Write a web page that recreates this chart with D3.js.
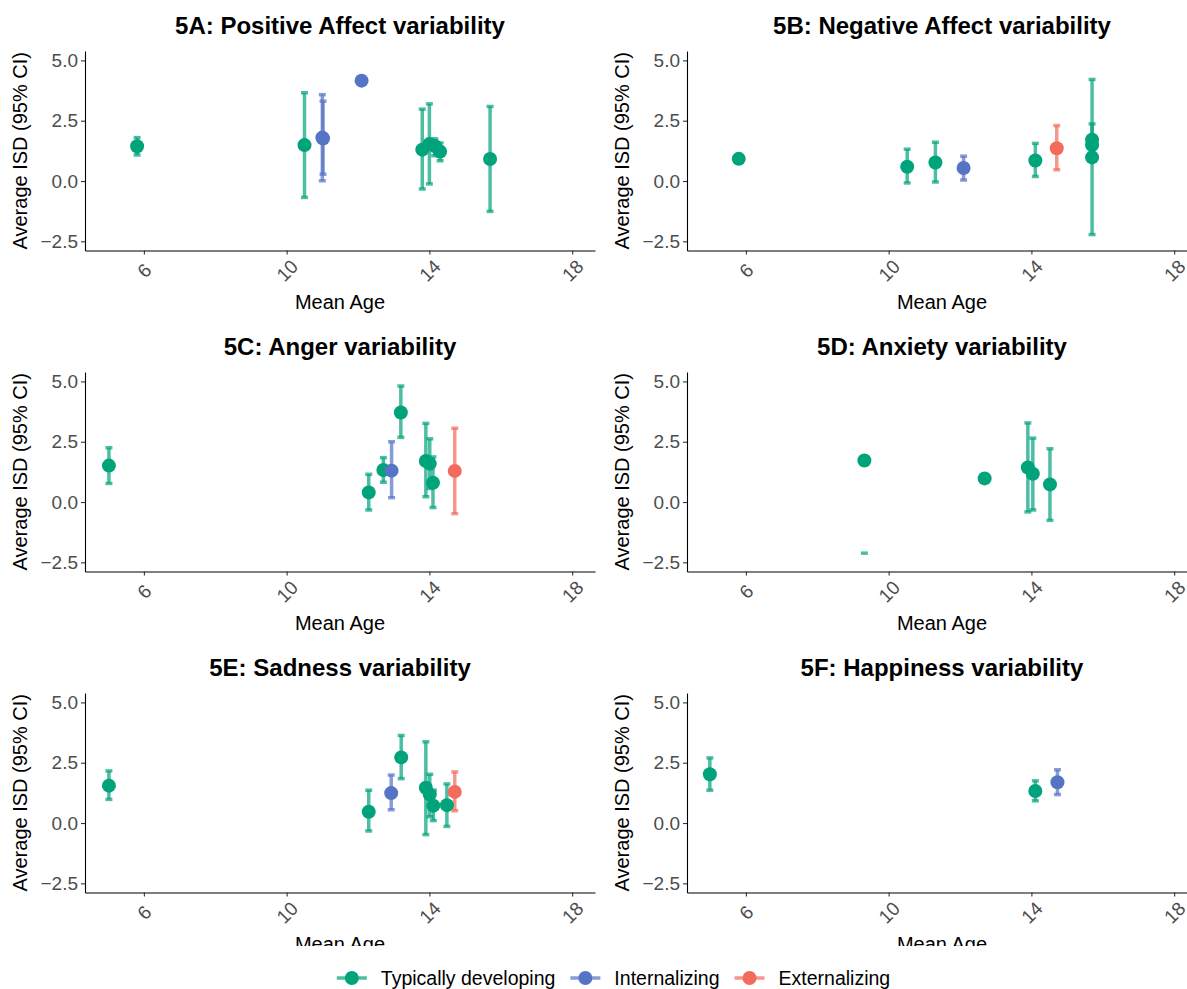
<!DOCTYPE html>
<html>
<head>
<meta charset="utf-8">
<script src="https://cdn.jsdelivr.net/npm/d3@7"></script>
<style>
  body { margin: 0; background: #fff; }
  text { font-family: "Liberation Sans", Arial, sans-serif; }
</style>
</head>
<body>
<div id="chart"></div>
<script>
var chartWidth = 1187;
var chartHeight = 989;

var panelTitles = [
  "5A: Positive Affect variability",
  "5B: Negative Affect variability",
  "5C: Anger variability",
  "5D: Anxiety variability",
  "5E: Sadness variability",
  "5F: Happiness variability"
];
var groupNames = ["Typically developing", "Internalizing", "Externalizing"];
var groupColors = ["#00A37A", "#5674C6", "#F26B5C"];
var xTicks = [6, 10, 14, 18];
var yTicks = [-2.5, 0, 2.5, 5];

// rows: [mean age, average ISD, CI low, CI high, group index]
var panelA = [
  [5.81, 1.44, 1.08, 1.80, 0],
  [10.50, 1.49, -0.68, 3.66, 0],
  [11.00, 1.80, 0.01, 3.58, 1],
  [11.02, 1.76, 0.28, 3.31, 1],
  [12.10, 4.16, null, null, 1],
  [13.80, 1.30, -0.33, 2.98, 0],
  [14.00, 1.53, -0.12, 3.20, 0],
  [14.15, 1.45, 1.05, 1.75, 0],
  [14.30, 1.22, 0.84, 1.58, 0],
  [15.70, 0.91, -1.26, 3.09, 0]
];
var panelB = [
  [5.80, 0.92, null, null, 0],
  [10.52, 0.59, -0.08, 1.32, 0],
  [11.31, 0.77, -0.04, 1.61, 0],
  [12.10, 0.54, 0.04, 1.03, 1],
  [14.11, 0.85, 0.19, 1.56, 0],
  [14.71, 1.36, 0.47, 2.30, 2],
  [15.70, 1.71, 1.05, 2.37, 0],
  [15.70, 1.49, 1.20, 1.80, 0],
  [15.70, 0.98, -2.22, 4.21, 0]
];
var panelC = [
  [5.02, 1.51, 0.77, 2.25, 0],
  [12.30, 0.40, -0.33, 1.15, 0],
  [12.71, 1.33, 0.82, 1.84, 0],
  [12.94, 1.30, 0.18, 2.50, 1],
  [13.20, 3.71, 2.68, 4.81, 0],
  [13.90, 1.70, 0.22, 3.26, 0],
  [14.01, 1.59, 0.56, 2.62, 0],
  [14.10, 0.80, -0.23, 1.87, 0],
  [14.71, 1.29, -0.48, 3.06, 2]
];
var panelD = [
  [9.32, 1.72, -2.12, null, 0],
  [12.69, 0.98, null, null, 0],
  [13.90, 1.43, -0.41, 3.28, 0],
  [14.04, 1.17, -0.33, 2.65, 0],
  [14.52, 0.73, -0.76, 2.21, 0]
];
var panelE = [
  [5.02, 1.55, 0.98, 2.16, 0],
  [12.30, 0.47, -0.33, 1.36, 0],
  [12.93, 1.24, 0.55, 1.99, 1],
  [13.21, 2.72, 1.84, 3.63, 0],
  [13.90, 1.46, -0.48, 3.37, 0],
  [14.01, 1.18, 0.26, 2.02, 0],
  [14.11, 0.72, 0.10, 1.36, 0],
  [14.49, 0.74, -0.14, 1.62, 0],
  [14.71, 1.29, 0.51, 2.12, 2]
];
var panelF = [
  [4.99, 2.02, 1.36, 2.70, 0],
  [14.11, 1.33, 0.92, 1.75, 0],
  [14.73, 1.69, 1.18, 2.21, 1]
];
var panelData = [panelA, panelB, panelC, panelD, panelE, panelF];

var plotWidth = 510;
var plotHeight = 199.5;
var columnLeft = [85, 687];
var rowTop = [51, 372, 693];

var svg = d3.select("#chart")
  .append("svg")
  .attr("width", chartWidth)
  .attr("height", chartHeight);

svg.append("rect").attr("width", chartWidth).attr("height", chartHeight).attr("fill", "#fff");

var xScale = d3.scaleLinear().domain([4.35, 18.64]).range([0, plotWidth]);
var yScale = d3.scaleLinear().domain([-2.88, 5.39]).range([plotHeight, 0]);

panelData.forEach(function (rows, i) {
  var panel = svg.append("g")
    .attr("transform", "translate(" + columnLeft[i % 2] + "," + rowTop[Math.floor(i / 2)] + ")");

  // title
  panel.append("text")
    .attr("x", plotWidth / 2)
    .attr("y", -17)
    .attr("text-anchor", "middle")
    .style("font-size", "24px")
    .style("font-weight", "bold")
    .text(panelTitles[i]);

  // x axis
  var xAxis = panel.append("g")
    .attr("transform", "translate(0," + plotHeight + ")")
    .call(d3.axisBottom(xScale).tickValues(xTicks).tickSize(4).tickSizeOuter(0).tickFormat(d3.format("d")));
  xAxis.selectAll("text")
    .attr("y", 0)
    .attr("dy", "0.35em")
    .attr("text-anchor", "middle")
    .attr("transform", "translate(0,20) rotate(-45)")
    .style("font-size", "19px")
    .attr("fill", "#4d4d4d");

  // y axis
  var yAxis = panel.append("g")
    .call(d3.axisLeft(yScale).tickValues(yTicks).tickSize(4).tickSizeOuter(0).tickFormat(d3.format(".1f")));
  yAxis.selectAll("text")
    .attr("x", -7)
    .style("font-size", "19px")
    .attr("fill", "#4d4d4d");

  panel.selectAll(".domain").attr("stroke", "#000").attr("stroke-width", 1.1);
  panel.selectAll(".tick line").attr("stroke", "#333").attr("stroke-width", 1.1);

  // axis titles
  panel.append("text")
    .attr("x", plotWidth / 2)
    .attr("y", plotHeight + 51.5)
    .attr("dy", "0.35em")
    .attr("text-anchor", "middle")
    .style("font-size", "20px")
    .text("Mean Age");
  panel.append("text")
    .attr("transform", "rotate(-90)")
    .attr("x", -plotHeight / 2)
    .attr("y", -65)
    .attr("dy", "0.35em")
    .attr("text-anchor", "middle")
    .style("font-size", "20px")
    .text("Average ISD (95% CI)");

  // error bars
  var bars = panel.append("g")
    .selectAll("g")
    .data(rows)
    .enter()
    .append("g")
    .attr("stroke", function (d) { return groupColors[d[4]]; })
    .attr("stroke-opacity", 0.7)
    .attr("stroke-width", 3.5);
  bars.filter(function (d) { return d[2] !== null && d[3] !== null; })
    .append("line")
    .attr("x1", function (d) { return xScale(d[0]); })
    .attr("x2", function (d) { return xScale(d[0]); })
    .attr("y1", function (d) { return yScale(d[2]); })
    .attr("y2", function (d) { return yScale(d[3]); });
  [2, 3].forEach(function (k) {
    bars.filter(function (d) { return d[k] !== null; })
      .append("line")
      .attr("x1", function (d) { return xScale(d[0]) - 3.5; })
      .attr("x2", function (d) { return xScale(d[0]) + 3.5; })
      .attr("y1", function (d) { return yScale(d[k]); })
      .attr("y2", function (d) { return yScale(d[k]); });
  });

  // points
  panel.append("g")
    .selectAll("circle")
    .data(rows)
    .enter()
    .append("circle")
    .attr("cx", function (d) { return xScale(d[0]); })
    .attr("cy", function (d) { return yScale(d[1]); })
    .attr("r", 7)
    .attr("fill", function (d) { return groupColors[d[4]]; });
});

// legend box covers the bottom of the last axis titles
svg.append("rect")
  .attr("x", 0).attr("y", 946)
  .attr("width", chartWidth).attr("height", chartHeight - 946)
  .attr("fill", "#fff");

var legend = svg.append("g").attr("transform", "translate(0,978)");
var legendItems = legend.selectAll("g")
  .data(groupNames)
  .enter()
  .append("g");
legendItems.append("line")
  .attr("x1", 0).attr("x2", 30)
  .attr("stroke", function (d, i) { return groupColors[i]; })
  .attr("stroke-opacity", 0.7)
  .attr("stroke-width", 3.5);
legendItems.append("circle")
  .attr("cx", 15).attr("r", 7)
  .attr("fill", function (d, i) { return groupColors[i]; });
legendItems.append("text")
  .attr("x", 44)
  .attr("dy", "0.35em")
  .style("font-size", "19.5px")
  .text(function (d) { return d; });

var legendX = 0;
var offsets = [];
legendItems.each(function () {
  offsets.push(legendX);
  legendX += 44 + this.querySelector("text").getComputedTextLength() + 15;
});
var legendStart = 613.5 - (legendX - 15) / 2;
legendItems.attr("transform", function (d, i) { return "translate(" + (legendStart + offsets[i]) + ",0)"; });
</script>
</body>
</html>
